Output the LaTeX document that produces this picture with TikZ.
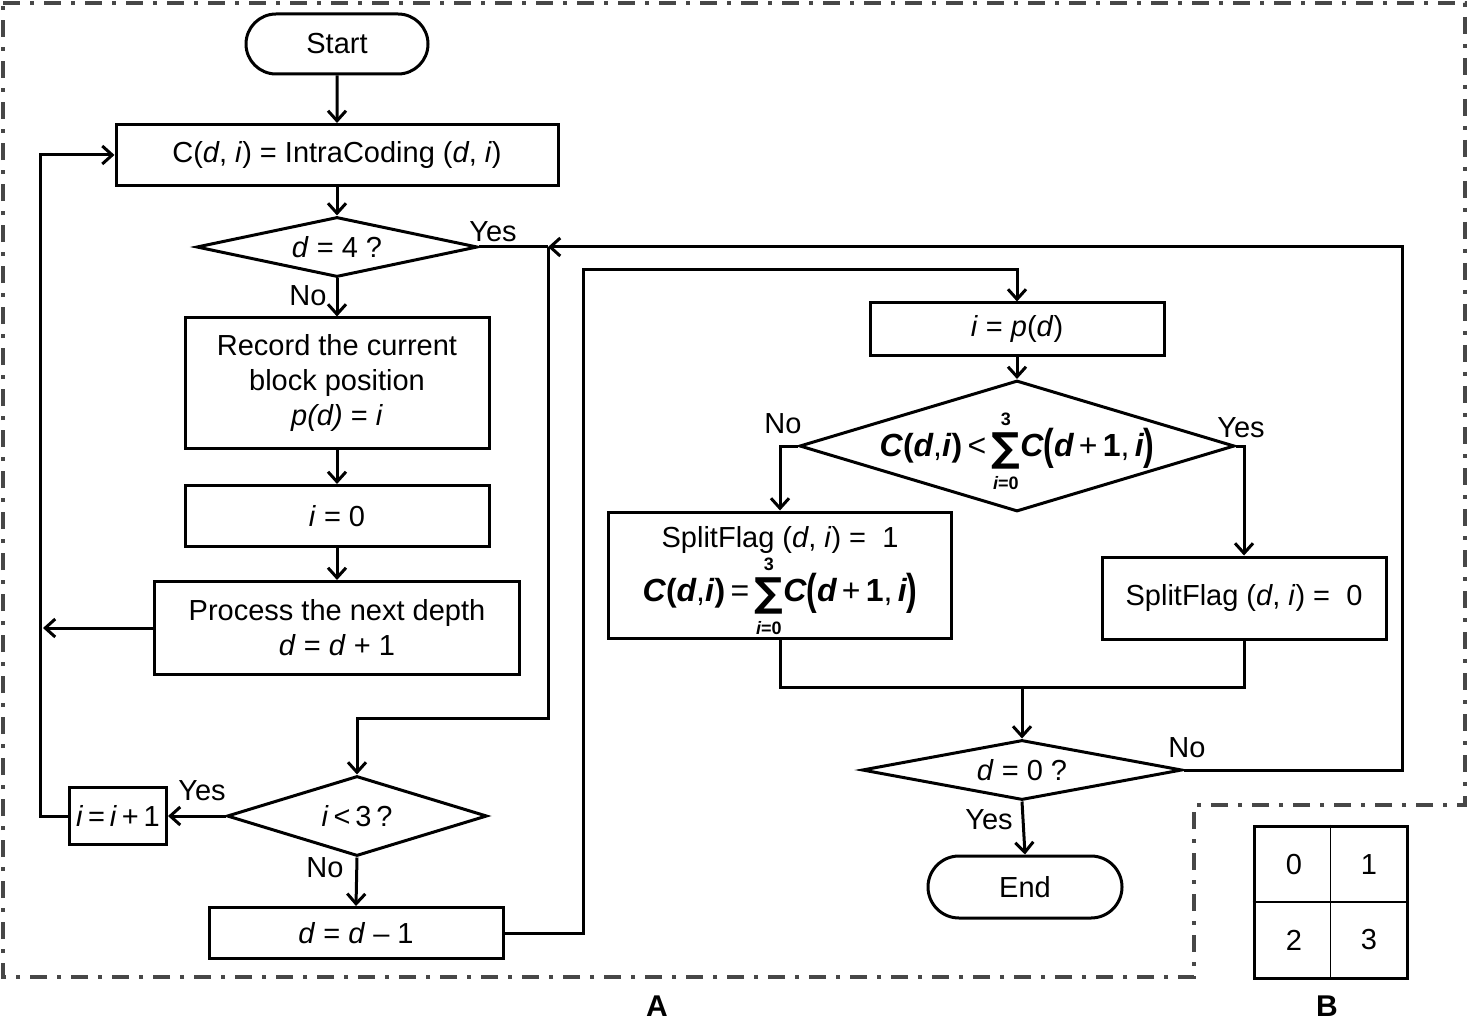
\documentclass[tikz,border=0pt]{standalone}
\usepackage{amsmath}
\usepackage{graphicx}
\usepackage{fontspec}
\setmainfont{Liberation Sans}
\newfontfamily\symfam{DejaVu Sans}
\usetikzlibrary{shapes.geometric,shapes.misc,arrows.meta}
\newcommand{\bi}[1]{{\bfseries\itshape #1}}
\newcommand{\bsum}{$\mathop{\hbox{\raisebox{-2.5pt}{\symfam\bfseries\fontsize{20}{20}\selectfont ∑}}}\limits_{\text{\fontsize{9}{9}\selectfont\bfseries\itshape i\upshape=0}}^{\text{\fontsize{9}{9}\selectfont\bfseries 3}}$}
\newcommand{\bpl}{\raisebox{-1.8pt}{\scalebox{1}[1.35]{\textbf{(}}}}
\newcommand{\bpr}{\raisebox{-1.8pt}{\scalebox{1}[1.35]{\textbf{)}}}}
\newcommand{\cexpr}{\bi{C}\bpl\bi{d}\,+\,\textbf{1},\,\bi{i}\bpr}
\newcommand{\cdi}{\bi{C}\textbf{(}\bi{d},\bi{i}\textbf{)}}
\newcommand{\at}[2]{\makebox[0pt]{\raisebox{#1}{#2}}}
\newcommand{\fixbox}[1]{\makebox[10pt]{\smash{#1}}}
\newcommand{\mfont}{\fontsize{16}{18}\selectfont}
\begin{document}
\begin{tikzpicture}[x=0.5pt,y=-0.5pt,
  every node/.style={font=\fontsize{14.5}{17.5}\selectfont},
  box/.style={draw,line width=1.5pt,inner sep=0pt,align=center},
  term/.style={draw,line width=1.5pt,rounded rectangle,inner sep=0pt},
  dia/.style={draw,line width=1.5pt,diamond,inner sep=0pt},
  arr/.style={line width=1.5pt,-{Straight Barb[length=5pt,width=9pt]}},
  ln/.style={line width=1.5pt},
  lbl/.style={inner sep=0pt},
  frame/.style={draw=black!72,line width=1.75pt,dash pattern=on 8.5pt off 5pt on 2pt off 5pt}]
\useasboundingbox (0,0) rectangle (1470,1021);
\draw[frame] (3,3) -- (1465,3) -- (1465,805) -- (1194,805) -- (1194,977) -- (3,977) -- cycle;

% left column
\node[term,minimum width=91pt,minimum height=30pt] (start) at (337,44) {Start};
\node[box,minimum width=221pt,minimum height=30.5pt] (cbox) at (337,155) {C(\textit{d}, \textit{i}) = IntraCoding (\textit{d}, \textit{i})};
\node[dia,minimum width=140.5pt,minimum height=30pt,aspect=4.7] (d4) at (337,247) {\textit{d} = 4 ?};
\node[box,minimum width=152pt,minimum height=65pt] (record) at (337,383) {Record the current\\block position\\\textit{p(d)} = \textit{i}};
\node[box,minimum width=152pt,minimum height=30.5pt] (izero) at (337,516) {\textit{i} = 0};
\node[box,minimum width=182.5pt,minimum height=46.5pt] (process) at (337,628) {Process the next depth\\\textit{d} = \textit{d} + 1};
\node[dia,minimum width=130pt,minimum height=40pt,aspect=3.25] (i3) at (357,816) {\textit{i}\,<\,3\,?};
\node[box,minimum width=48.5pt,minimum height=28.5pt] (inc) at (118,816) {\textit{i}\,=\,\textit{i}\,+\,1};
\node[box,minimum width=147pt,minimum height=25.5pt] (dm1) at (356,933) {\textit{d} = \textit{d} -- 1};

% right column
\node[box,minimum width=147pt,minimum height=26pt] (ipd) at (1017,329) {\textit{i} = \textit{p}(\textit{d})};
\node[dia,minimum width=217.5pt,minimum height=65.5pt,aspect=3.3] (big) at (1017,446)
  {\fixbox{\at{-5pt}{\mfont\cdi\,<\,\bsum\cexpr}}};
\node[box,minimum width=171.5pt,minimum height=63pt] (sf1) at (780,575)
  {\fixbox{\at{14pt}{SplitFlag (\textit{d}, \textit{i}) = \ 1}\at{-13pt}{\mfont\cdi\,=\,\bsum\cexpr}}};
\node[box,minimum width=142pt,minimum height=41pt] (sf0) at (1244,598) {SplitFlag (\textit{d}, \textit{i}) = \ 0};
\node[dia,minimum width=160pt,minimum height=30pt,aspect=5.3] (d0) at (1022,770) {\textit{d} = 0 ?};
\node[term,minimum width=97pt,minimum height=31pt] (end) at (1025,887) {End};

% coordinates
\coordinate (yj) at (548,247);
\coordinate (pl) at (43,628);
\coordinate (lp) at (40,816);
\coordinate (rr) at (1402,770);
\coordinate (mj) at (780,687);
\coordinate (mj2) at (1244,687);
\coordinate (mc) at (1022,687);

% connectors
\draw[arr] (start) -- (cbox);
\draw[arr] (cbox) -- (d4);
\draw[arr] (d4) -- (record);
\draw[arr] (record) -- (izero);
\draw[arr] (izero) -- (process);
\draw[arr] (process.west) -- (pl);
\draw[arr] (inc.west) -- (lp) |- (cbox.west);
\draw[ln] (d4.east) -- (yj);
\draw[arr] (yj) -- (548,718) -| (i3.north);
\draw[arr] (i3.west) -- (inc.east);
\draw[arr] (i3.south) -- (dm1.north);
\draw[arr] (dm1.east) -- (583,933) -- (583,270) -| (ipd.north);
\draw[arr] (ipd) -- (big.north);
\draw[arr] (big.west) -| (sf1.north);
\draw[arr] (big.east) -| (sf0.north);
\draw[ln] (sf1.south) -- (mj) -- (mj2) -- (sf0.south);
\draw[arr] (mc) -- (d0.north);
\draw[arr] (d0.south) -- (end.north);
\draw[arr] (d0.east) -- (rr) -- (1402,247) -- (yj);

% labels
\node[lbl] at (493,232) {Yes};
\node[lbl] at (308,296) {No};
\node[lbl] at (202,791) {Yes};
\node[lbl] at (325,868) {No};
\node[lbl] at (783,424) {No};
\node[lbl] at (1241,428) {Yes};
\node[lbl] at (1187,748) {No};
\node[lbl] at (989,820) {Yes};

% panel B
\node[draw,line width=1.5pt,minimum width=76.5pt,minimum height=76pt,inner sep=0pt] (grid) at (1330.5,902) {};
\draw[line width=0.75pt] (grid.north) -- (grid.south);
\draw[line width=0.75pt] (grid.west) -- (grid.east);
\node[lbl] at (1294,865) {0};
\node[lbl] at (1369,865) {1};
\node[lbl] at (1294,940) {2};
\node[lbl] at (1369,940) {3};
\node[lbl,font=\fontsize{15}{16}\selectfont\bfseries] at (657,1006) {A};
\node[lbl,font=\fontsize{15}{16}\selectfont\bfseries] at (1327,1006) {B};
\end{tikzpicture}
\end{document}
